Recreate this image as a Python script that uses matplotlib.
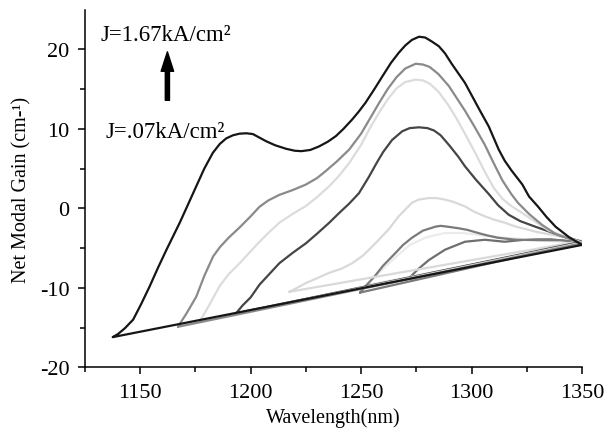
import matplotlib
matplotlib.use("Agg")
import matplotlib.pyplot as plt
from matplotlib.ticker import FixedLocator

plt.rcParams['font.family'] = ['Liberation Serif', 'DejaVu Serif']
plt.rcParams['axes.unicode_minus'] = False

# Net modal gain spectra, one per injection current density (low -> high)
wl_j1 = [1272, 1276, 1280.7, 1288, 1297, 1306, 1315, 1325.8, 1336, 1350]
g_j1 = [-8.7, -7.6, -6.5, -5.2, -4.2, -3.95, -4.2, -3.9, -3.9, -4.3]

wl_j2 = [1252, 1258, 1265, 1272, 1280, 1288, 1296, 1305, 1315, 1330, 1350]
g_j2 = [-9.7, -8.1, -6.3, -4.6, -3.6, -3.1, -3.1, -3.4, -3.7, -4.0, -4.4]

wl_j3 = [1249.5, 1252, 1256, 1260, 1265.6, 1269, 1273, 1278, 1283.7, 1286,
         1289, 1294, 1298, 1303, 1307, 1312, 1320, 1330, 1340, 1350]
g_j3 = [-10.6, -9.8, -8.6, -7.2, -5.6, -4.6, -3.7, -2.8, -2.3, -2.2,
        -2.3, -2.5, -2.7, -3.1, -3.4, -3.7, -3.95, -4.0, -4.0, -4.3]

wl_j4 = [1217.5, 1221, 1225, 1230, 1235.6, 1241, 1246, 1251, 1255, 1258,
         1262.6, 1267, 1273, 1276, 1280.7, 1284, 1288, 1292, 1297, 1301,
         1306, 1310, 1315, 1320, 1325.8, 1330, 1336, 1343, 1350]
g_j4 = [-10.5, -10.0, -9.4, -8.8, -8.1, -7.6, -6.9, -5.9, -4.8, -3.95,
        -2.6, -1.0, 0.7, 1.1, 1.3, 1.3, 1.1, 0.8, 0.25, -0.4,
        -1.0, -1.4, -1.8, -2.3, -2.7, -3.0, -3.3, -3.7, -4.1]

wl_j5 = [1193.4, 1196.4, 1200, 1204, 1208, 1213, 1219, 1225, 1230, 1235.6,
         1240, 1244.6, 1249, 1253.6, 1257, 1260, 1264, 1268.6, 1272, 1276.2,
         1280, 1283, 1286, 1290, 1294, 1297, 1302, 1307.8, 1312, 1316.8,
         1322, 1328.8, 1335, 1341, 1350]
g_j5 = [-13.2, -12.2, -11.2, -9.6, -8.4, -6.9, -5.6, -4.4, -3.2, -1.8,
        -0.6, 0.6, 1.9, 4.0, 5.7, 7.1, 8.6, 9.7, 10.1, 10.2,
        10.1, 9.8, 9.2, 7.9, 6.5, 5.3, 3.6, 1.8, 0.4, -0.8,
        -1.6, -2.3, -2.9, -3.5, -4.2]

wl_j6 = [1177, 1181, 1185.9, 1190, 1195, 1200, 1204, 1208, 1213, 1219,
         1225, 1230, 1235.6, 1240, 1244.6, 1250, 1254, 1258, 1262, 1266,
         1270, 1274.7, 1278, 1281, 1285, 1289.7, 1293, 1297, 1302, 1306,
         1310, 1314, 1318, 1323, 1330, 1335, 1341, 1350]
g_j6 = [-14.2, -12.3, -9.8, -8.3, -6.9, -5.4, -4.2, -3.1, -1.8, -0.7,
        0.3, 1.4, 2.8, 4.1, 5.7, 8.0, 10.1, 12.0, 13.7, 15.1,
        15.9, 16.2, 16.1, 15.7, 14.7, 12.9, 11.4, 9.4, 6.8, 4.6,
        2.6, 1.2, 0.3, -0.6, -1.9, -2.8, -3.4, -4.3]

wl_j7 = [1167.1, 1171, 1175.4, 1179, 1183, 1186, 1190, 1195, 1200, 1204,
         1208, 1213, 1219, 1225, 1230, 1234, 1239, 1244.6, 1250, 1254,
         1258, 1262, 1266, 1270, 1274.7, 1278, 1281, 1285, 1289.7, 1293,
         1297, 1301.5, 1306, 1310, 1314, 1318, 1321, 1326, 1332, 1338,
         1344, 1350]
g_j7 = [-14.9, -13.2, -11.1, -8.5, -6.05, -4.9, -3.7, -2.4, -1.0, 0.2,
        1.0, 1.7, 2.3, 3.0, 3.8, 4.7, 5.9, 7.4, 9.4, 11.3,
        13.2, 15.0, 16.5, 17.6, 18.2, 18.1, 17.8, 16.9, 15.4, 14.0,
        12.3, 10.2, 8.0, 5.7, 3.5, 1.8, 0.7, -0.7, -2.1, -3.2,
        -3.8, -4.4]

wl_j8 = [1137.6, 1140, 1143, 1146.8, 1150.5, 1154.3, 1158, 1161.9, 1164.9,
         1167.9, 1171.5, 1175.4, 1179, 1182.9, 1186, 1188.9, 1192, 1195,
         1198, 1201, 1204, 1207, 1211, 1216, 1220, 1223, 1227, 1231,
         1235, 1238.6, 1242, 1246, 1249, 1252, 1256, 1259.6, 1263.5,
         1267.1, 1270, 1273, 1276.2, 1279, 1282, 1285.2, 1288, 1291,
         1294, 1297, 1300.5, 1304, 1307.8, 1312.3, 1315, 1318, 1323,
         1326, 1330, 1334, 1338, 1344, 1350]
g_j8 = [-16.2, -15.8, -15.1, -14.0, -12.0, -9.8, -7.5, -5.2, -3.5,
        -1.8, 0.4, 2.8, 5.0, 7.0, 8.1, 8.8, 9.2, 9.4,
        9.45, 9.35, 8.9, 8.45, 7.95, 7.5, 7.25, 7.2, 7.35, 7.8,
        8.4, 9.1, 10.0, 11.2, 12.2, 13.3, 15.0, 16.6, 18.3,
        19.6, 20.5, 21.2, 21.6, 21.5, 21.0, 20.4, 19.5, 18.2,
        17.0, 15.8, 14.0, 12.2, 10.3, 7.4, 6.0, 4.8, 3.0,
        1.5, 0.25, -1.1, -2.3, -3.6, -4.6]

spectra = [
    (wl_j1, g_j1, '#6e6e6e'),
    (wl_j2, g_j2, '#ebebeb'),
    (wl_j3, g_j3, '#7a7a7a'),
    (wl_j4, g_j4, '#d9d9d9'),
    (wl_j5, g_j5, '#454545'),
    (wl_j6, g_j6, '#dcdcdc'),
    (wl_j7, g_j7, '#8a8a8a'),
    (wl_j8, g_j8, '#161616'),
]

fig = plt.figure(figsize=(6.07, 4.31), dpi=100)
ax = fig.add_axes([85 / 607, 1 - 368.3 / 431, (582 - 85) / 607, (368.3 - 10.7) / 431])

for wl, g, col in spectra:
    # each trace is closed back to its first point
    ax.plot(wl + [wl[0]], g + [g[0]], color=col, lw=1.6,
            solid_joinstyle='round', solid_capstyle='round')

ax.set_xlim(1125, 1350)
ax.set_ylim(-20, 25)
ax.xaxis.set_major_locator(FixedLocator([1150, 1200, 1250, 1300, 1350]))
ax.xaxis.set_minor_locator(FixedLocator([1125, 1175, 1225, 1275, 1325]))
ax.yaxis.set_major_locator(FixedLocator([-20, -10, 0, 10, 20]))
ax.yaxis.set_minor_locator(FixedLocator([-15, -5, 5, 15]))

for side in ('top', 'right'):
    ax.spines[side].set_visible(False)
for side in ('left', 'bottom'):
    ax.spines[side].set_linewidth(1.1)

ax.tick_params(which='major', direction='out', length=5, width=1.1, labelsize=16, pad=6)
ax.tick_params(which='minor', direction='out', length=3.5, width=1.1)

ax.set_xlabel('Wavelength(nm)', fontsize=14.5, va='baseline')
ax.xaxis.set_label_coords(0.5, -0.153)
ax.set_ylabel('Net Modal Gain (cm-\u00b9)', fontsize=14.5, va='center', ha='center')
ax.yaxis.set_label_coords(-0.127, 0.5)

ax.text(1131.8, 21.2, 'J=1.67kA/cm\u00b2', fontsize=16.5, ha='left', va='baseline')
ax.text(1134.5, 9.0, 'J=.07kA/cm\u00b2', fontsize=16.5, ha='left', va='baseline')
ax.annotate('', xy=(1162.3, 19.7), xytext=(1162.3, 13.6),
            arrowprops=dict(facecolor='black', edgecolor='black', width=3,
                            headwidth=9, headlength=14, shrink=0))

fig.savefig('out.png', dpi=100)
